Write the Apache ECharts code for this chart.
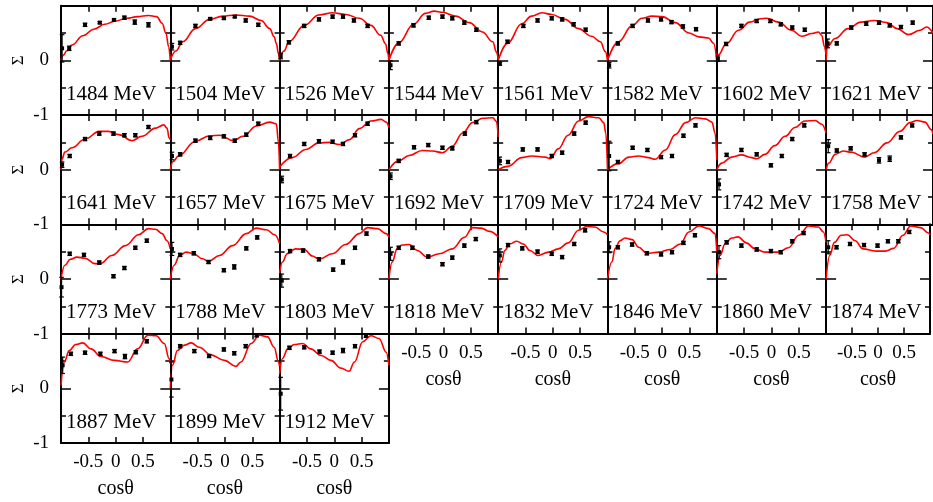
<!DOCTYPE html>
<html><head><meta charset="utf-8">
<script src="https://cdn.jsdelivr.net/npm/echarts@6/dist/echarts.min.js"></script>
<style>html,body{margin:0;padding:0;background:#fff}#c{width:933px;height:502px}</style>
</head><body><div id="c"></div>
<script>
// ---- data ----
const energies = [1484,1504,1526,1544,1561,1582,1602,1621,1641,1657,1675,1692,1709,1724,1742,1758,1773,1788,1803,1818,1832,1846,1860,1874,1887,1899,1912];
const xTicks = [-0.5, 0, 0.5];
const yTicks = [-1, 0];

// measured points [cosθ, Σ, error]
const pts1484 = [[-0.98,0.22,0.25],[-0.85,0.22,0.04],[-0.56,0.65,0.03],[-0.29,0.69,0.02],[-0.03,0.74,0.02],[0.16,0.78,0.03],[0.35,0.70,0.04],[0.6,0.65,0.04]];
const pts1504 = [[-0.97,0.25,0.06],[-0.82,0.32,0.03],[-0.54,0.63,0.03],[-0.27,0.76,0.02],[-0.02,0.77,0.02],[0.18,0.8,0.02],[0.38,0.73,0.03],[0.61,0.65,0.03]];
const pts1526 = [[-0.98,0.08,0.05],[-0.83,0.33,0.03],[-0.55,0.63,0.03],[-0.28,0.75,0.03],[-0.03,0.8,0.03],[0.16,0.8,0.03],[0.36,0.73,0.03],[0.61,0.63,0.03]];
const pts1544 = [[-0.97,-0.09,0.08],[-0.82,0.31,0.03],[-0.55,0.64,0.03],[-0.27,0.78,0.03],[-0.02,0.8,0.03],[0.16,0.77,0.03],[0.38,0.69,0.03],[0.6,0.56,0.03]];
const pts1561 = [[-0.97,-0.06,0.03],[-0.83,0.34,0.03],[-0.54,0.63,0.03],[-0.28,0.73,0.03],[-0.02,0.77,0.03],[0.17,0.75,0.03],[0.38,0.66,0.03],[0.6,0.56,0.03]];
const pts1582 = [[-0.97,-0.09,0.05],[-0.81,0.31,0.03],[-0.54,0.63,0.03],[-0.26,0.73,0.03],[-0.02,0.75,0.03],[0.17,0.7,0.03],[0.38,0.62,0.03],[0.62,0.57,0.03]];
const pts1602 = [[-0.98,0.03,0.05],[-0.83,0.3,0.03],[-0.55,0.63,0.03],[-0.27,0.72,0.03],[-0.02,0.72,0.03],[0.17,0.66,0.03],[0.38,0.6,0.03],[0.61,0.56,0.03]];
const pts1621 = [[-0.97,0.31,0.08],[-0.8,0.31,0.03],[-0.53,0.6,0.03],[-0.25,0.67,0.03],[-0.01,0.69,0.03],[0.19,0.64,0.03],[0.4,0.61,0.03],[0.62,0.69,0.03]];
const pts1641 = [[-0.98,0.09,0.05],[-0.84,0.25,0.03],[-0.56,0.56,0.03],[-0.3,0.66,0.03],[-0.04,0.66,0.03],[0.16,0.63,0.03],[0.36,0.63,0.03],[0.6,0.78,0.03]];
const pts1657 = [[-0.97,0.25,0.07],[-0.82,0.28,0.03],[-0.54,0.53,0.03],[-0.27,0.58,0.03],[-0.02,0.61,0.03],[0.18,0.53,0.03],[0.39,0.64,0.03],[0.61,0.84,0.03]];
const pts1675 = [[-0.96,-0.18,0.06],[-0.81,0.25,0.03],[-0.55,0.47,0.03],[-0.28,0.52,0.03],[-0.03,0.51,0.03],[0.16,0.47,0.03],[0.38,0.63,0.03],[0.61,0.84,0.03]];
const pts1692 = [[-0.97,-0.12,0.06],[-0.82,0.16,0.03],[-0.54,0.41,0.03],[-0.28,0.45,0.03],[-0.02,0.4,0.03],[0.16,0.39,0.03],[0.39,0.66,0.03],[0.6,0.87,0.03]];
const pts1709 = [[-0.97,0.16,0.07],[-0.82,0.14,0.03],[-0.55,0.37,0.03],[-0.28,0.37,0.03],[-0.02,0.25,0.03],[0.17,0.31,0.03],[0.39,0.66,0.03],[0.6,0.86,0.03]];
const pts1724 = [[-0.97,0.25,0.27],[-0.81,0.14,0.03],[-0.54,0.4,0.03],[-0.27,0.36,0.03],[-0.02,0.23,0.03],[0.18,0.25,0.03],[0.39,0.62,0.03],[0.61,0.81,0.03]];
const pts1742 = [[-0.96,-0.27,0.1],[-0.82,0.27,0.03],[-0.55,0.36,0.03],[-0.27,0.28,0.03],[-0.01,0.08,0.03],[0.19,0.25,0.03],[0.38,0.56,0.03],[0.6,0.81,0.03]];
const pts1758 = [[-0.96,0.43,0.12],[-0.8,0.35,0.03],[-0.54,0.39,0.03],[-0.28,0.28,0.03],[-0.01,0.17,0.05],[0.19,0.2,0.05],[0.4,0.59,0.03],[0.61,0.81,0.03]];
const pts1773 = [[-0.99,-0.15,0.18],[-0.84,0.46,0.03],[-0.58,0.44,0.03],[-0.3,0.3,0.03],[-0.04,0.05,0.03],[0.16,0.2,0.03],[0.36,0.57,0.03],[0.57,0.7,0.03]];
const pts1788 = [[-0.97,0.55,0.12],[-0.82,0.44,0.03],[-0.57,0.47,0.03],[-0.3,0.31,0.03],[-0.02,0.16,0.03],[0.17,0.22,0.04],[0.39,0.56,0.03],[0.59,0.76,0.03]];
const pts1803 = [[-0.96,-0.03,0.12],[-0.81,0.51,0.03],[-0.57,0.52,0.03],[-0.28,0.36,0.03],[-0.02,0.17,0.03],[0.16,0.31,0.04],[0.38,0.57,0.03],[0.59,0.83,0.03]];
const pts1818 = [[-0.97,0.46,0.12],[-0.82,0.57,0.03],[-0.57,0.57,0.03],[-0.28,0.41,0.03],[-0.02,0.27,0.03],[0.16,0.39,0.03],[0.38,0.61,0.03],[0.59,0.73,0.03]];
const pts1832 = [[-0.97,0.43,0.12],[-0.82,0.62,0.03],[-0.56,0.56,0.03],[-0.28,0.5,0.03],[-0.02,0.46,0.03],[0.17,0.4,0.03],[0.39,0.64,0.03],[0.59,0.89,0.03]];
const pts1846 = [[-0.97,0.58,0.1],[-0.81,0.58,0.03],[-0.55,0.63,0.03],[-0.28,0.47,0.03],[-0.02,0.45,0.03],[0.18,0.49,0.03],[0.39,0.66,0.03],[0.6,0.8,0.03]];
const pts1860 = [[-0.96,0.49,0.12],[-0.82,0.67,0.03],[-0.55,0.61,0.03],[-0.27,0.54,0.03],[-0.01,0.51,0.03],[0.17,0.49,0.03],[0.38,0.69,0.03],[0.59,0.84,0.03]];
const pts1874 = [[-0.96,0.58,0.12],[-0.8,0.58,0.03],[-0.54,0.64,0.03],[-0.27,0.62,0.03],[-0.01,0.61,0.03],[0.19,0.69,0.03],[0.39,0.69,0.03],[0.6,0.86,0.03]];
const pts1887 = [[-0.97,0.42,0.15],[-0.82,0.63,0.03],[-0.56,0.65,0.03],[-0.28,0.63,0.03],[-0.02,0.68,0.03],[0.17,0.58,0.04],[0.37,0.66,0.03],[0.57,0.86,0.03]];
const pts1899 = [[-0.98,0.16,0.32],[-0.82,0.77,0.03],[-0.56,0.68,0.03],[-0.29,0.59,0.03],[-0.02,0.71,0.03],[0.17,0.64,0.03],[0.38,0.77,0.03],[0.58,0.97,0.03]];
const pts1912 = [[-0.98,-0.1,0.3],[-0.82,0.74,0.03],[-0.55,0.75,0.03],[-0.27,0.67,0.03],[-0.03,0.65,0.03],[0.16,0.69,0.04],[0.38,0.77,0.03],[0.58,0.96,0.03]];

// model curves [cosθ, Σ]
const fit1484 = [[-1,0],[-0.95,0.1],[-0.9,0.17],[-0.8,0.28],[-0.6,0.45],[-0.4,0.57],[-0.2,0.66],[0,0.72],[0.2,0.77],[0.4,0.8],[0.6,0.82],[0.75,0.8],[0.85,0.68],[0.92,0.5],[0.97,0.25],[1,0]];
const fit1504 = [[-1,0],[-0.9,0.17],[-0.77,0.34],[-0.54,0.58],[-0.28,0.75],[-0.04,0.81],[0.2,0.83],[0.45,0.81],[0.66,0.73],[0.82,0.58],[0.9,0.43],[0.94,0.31],[0.98,0.12],[1,0]];
const fit1526 = [[-1,0],[-0.92,0.17],[-0.83,0.34],[-0.55,0.64],[-0.28,0.83],[-0.03,0.87],[0.21,0.84],[0.46,0.77],[0.67,0.64],[0.85,0.46],[0.94,0.3],[0.98,0.13],[1,0]];
const fit1544 = [[-1,0],[-0.82,0.32],[-0.55,0.66],[-0.33,0.86],[-0.17,0.9],[-0.02,0.88],[0.22,0.81],[0.47,0.69],[0.71,0.52],[0.9,0.34],[0.97,0.15],[1,0.02]];
const fit1561 = [[-1,0],[-0.83,0.31],[-0.57,0.67],[-0.39,0.81],[-0.2,0.87],[-0.02,0.84],[0.22,0.75],[0.47,0.58],[0.71,0.44],[0.87,0.34],[0.96,0.16],[1,0]];
const fit1582 = [[-1,0],[-0.8,0.34],[-0.55,0.63],[-0.37,0.77],[-0.19,0.81],[0,0.8],[0.24,0.69],[0.49,0.5],[0.67,0.43],[0.85,0.41],[0.94,0.31],[1,0]];
const fit1602 = [[-1,0],[-0.97,0.1],[-0.83,0.3],[-0.6,0.55],[-0.4,0.7],[-0.2,0.76],[-0.09,0.77],[0.13,0.7],[0.37,0.55],[0.55,0.44],[0.74,0.49],[0.86,0.52],[0.92,0.46],[0.97,0.25],[1,0.1]];
const fit1621 = [[-1,0],[-0.98,0.25],[-0.83,0.4],[-0.59,0.58],[-0.35,0.7],[-0.1,0.73],[0.14,0.69],[0.33,0.58],[0.54,0.47],[0.76,0.55],[0.88,0.61],[1,0.5]];
const fit1641 = [[-1,0],[-0.98,0.2],[-0.93,0.32],[-0.8,0.4],[-0.56,0.56],[-0.3,0.7],[-0.13,0.7],[0.06,0.64],[0.3,0.53],[0.48,0.61],[0.73,0.76],[0.88,0.82],[0.94,0.76],[0.98,0.58],[1,0.55]];
const fit1657 = [[-1,0],[-0.95,0.15],[-0.85,0.25],[-0.54,0.52],[-0.28,0.62],[-0.1,0.63],[0.15,0.53],[0.33,0.61],[0.58,0.8],[0.82,0.87],[0.94,0.84],[0.98,0.5],[1,0]];
const fit1675 = [[-1,0.05],[-0.77,0.22],[-0.52,0.37],[-0.28,0.49],[-0.09,0.5],[0.09,0.46],[0.28,0.55],[0.46,0.75],[0.67,0.89],[0.86,0.92],[0.95,0.87],[1,0.77]];
const fit1692 = [[-1,0],[-0.82,0.16],[-0.63,0.26],[-0.39,0.35],[-0.2,0.34],[-0.02,0.31],[0.16,0.43],[0.35,0.67],[0.53,0.86],[0.72,0.94],[0.9,0.95],[0.97,0.88],[1,0.6]];
const fit1709 = [[-1,0],[-0.82,0.06],[-0.57,0.22],[-0.39,0.25],[-0.14,0.23],[-0.05,0.2],[0.1,0.38],[0.28,0.63],[0.47,0.89],[0.65,0.97],[0.84,0.95],[0.93,0.86],[0.97,0.67],[1,0]];
const fit1724 = [[-1,0],[-0.8,0.11],[-0.61,0.23],[-0.43,0.25],[-0.25,0.22],[-0.13,0.19],[0.06,0.36],[0.24,0.64],[0.43,0.86],[0.61,0.95],[0.79,0.93],[0.91,0.87],[0.97,0.67],[1,0.18]];
const fit1742 = [[-1,0],[-0.91,0.12],[-0.73,0.23],[-0.55,0.27],[-0.36,0.22],[-0.27,0.2],[-0.12,0.28],[0.06,0.44],[0.25,0.61],[0.43,0.77],[0.61,0.89],[0.8,0.9],[0.92,0.83],[1,0.67]];
const fit1758 = [[-1,0],[-0.95,0.12],[-0.83,0.28],[-0.68,0.34],[-0.53,0.32],[-0.28,0.23],[-0.1,0.31],[0.14,0.49],[0.38,0.7],[0.57,0.86],[0.7,0.9],[0.85,0.87],[0.97,0.73],[1,0.65]];
const fit1773 = [[-1,0],[-0.93,0.25],[-0.83,0.36],[-0.71,0.4],[-0.56,0.38],[-0.38,0.28],[-0.28,0.28],[-0.07,0.43],[0.18,0.61],[0.42,0.81],[0.6,0.92],[0.73,0.91],[0.85,0.83],[0.94,0.7],[1,0.55]];
const fit1788 = [[-1,0],[-0.93,0.25],[-0.83,0.43],[-0.71,0.49],[-0.59,0.47],[-0.41,0.37],[-0.3,0.32],[-0.1,0.43],[0.14,0.61],[0.39,0.83],[0.57,0.93],[0.76,0.9],[0.91,0.81],[1,0.65]];
const fit1803 = [[-1,0.1],[-0.95,0.31],[-0.86,0.46],[-0.71,0.55],[-0.55,0.54],[-0.4,0.42],[-0.28,0.36],[-0.04,0.46],[0.21,0.63],[0.46,0.83],[0.61,0.94],[0.79,0.92],[0.95,0.83],[1,0.77]];
const fit1818 = [[-1,0],[-0.94,0.31],[-0.85,0.55],[-0.76,0.62],[-0.63,0.63],[-0.48,0.52],[-0.3,0.4],[-0.08,0.46],[0.16,0.55],[0.38,0.76],[0.53,0.94],[0.69,0.93],[0.84,0.87],[1,0.77]];
const fit1832 = [[-1,0],[-0.94,0.31],[-0.88,0.52],[-0.79,0.64],[-0.66,0.69],[-0.54,0.64],[-0.42,0.52],[-0.27,0.43],[-0.08,0.49],[0.1,0.55],[0.28,0.66],[0.47,0.89],[0.62,0.96],[0.77,0.95],[0.93,0.86],[1,0.81]];
const fit1846 = [[-1,0],[-0.92,0.31],[-0.86,0.56],[-0.77,0.7],[-0.68,0.75],[-0.55,0.72],[-0.43,0.58],[-0.28,0.47],[-0.06,0.49],[0.15,0.54],[0.33,0.64],[0.49,0.86],[0.67,0.97],[0.85,0.92],[0.97,0.83],[1,0.5]];
const fit1860 = [[-1,0.1],[-0.94,0.43],[-0.85,0.64],[-0.73,0.75],[-0.61,0.77],[-0.46,0.66],[-0.3,0.55],[-0.12,0.49],[0.13,0.49],[0.31,0.57],[0.5,0.8],[0.68,0.97],[0.86,0.95],[0.95,0.86],[1,0.67]];
const fit1874 = [[-1,0],[-0.93,0.43],[-0.84,0.67],[-0.71,0.8],[-0.59,0.81],[-0.44,0.7],[-0.29,0.55],[-0.04,0.51],[0.14,0.51],[0.3,0.56],[0.48,0.8],[0.63,0.97],[0.82,0.94],[0.97,0.84],[1,0.8]];
const fit1887 = [[-1,0.05],[-0.94,0.48],[-0.85,0.69],[-0.73,0.8],[-0.6,0.83],[-0.45,0.72],[-0.27,0.58],[-0.02,0.51],[0.22,0.48],[0.4,0.72],[0.59,0.97],[0.74,0.96],[0.89,0.82],[0.98,0.54],[1,0.45]];
const fit1899 = [[-1,0],[-0.96,0.42],[-0.87,0.69],[-0.74,0.79],[-0.62,0.83],[-0.47,0.75],[-0.26,0.61],[-0.01,0.51],[0.2,0.4],[0.29,0.48],[0.48,0.82],[0.63,0.97],[0.78,0.94],[0.9,0.75],[0.98,0.48],[1,0.4]];
const fit1912 = [[-1,0.26],[-0.95,0.54],[-0.85,0.72],[-0.73,0.8],[-0.58,0.82],[-0.43,0.72],[-0.24,0.6],[-0.06,0.51],[0.12,0.37],[0.27,0.31],[0.37,0.48],[0.52,0.85],[0.67,0.96],[0.82,0.91],[0.95,0.66],[1,0.42]];

const pointSets = [pts1484,pts1504,pts1526,pts1544,pts1561,pts1582,pts1602,pts1621,pts1641,pts1657,pts1675,pts1692,pts1709,pts1724,pts1742,pts1758,pts1773,pts1788,pts1803,pts1818,pts1832,pts1846,pts1860,pts1874,pts1887,pts1899,pts1912];
const fitSets = [fit1484,fit1504,fit1526,fit1544,fit1561,fit1582,fit1602,fit1621,fit1641,fit1657,fit1675,fit1692,fit1709,fit1724,fit1742,fit1758,fit1773,fit1788,fit1803,fit1818,fit1832,fit1846,fit1860,fit1874,fit1887,fit1899,fit1912];

// ---- layout ----
const NCOL = 8, L0 = 61, T0 = 5.7, PW = 109.3, PH = 109.3;
const FONT = 'Liberation Serif';
const grids = [], xAxes = [], yAxes = [], series = [], titles = [];
const axisLine = {show:true, onZero:false, lineStyle:{color:'#000', width:2}};
const tickStyle = {color:'#000', width:1.5};

function renderErr(params, api) {
  const x = api.value(0), y = api.value(1), e = api.value(2);
  const t = api.coord([x, y + e]), b = api.coord([x, y - e]), c = api.coord([x, y]);
  const w = 2.3, st = {stroke:'#000', lineWidth:1.2};
  return {type:'group', children:[
    {type:'line', shape:{x1:t[0], y1:t[1], x2:b[0], y2:b[1]}, style:st},
    {type:'line', shape:{x1:t[0]-w, y1:t[1], x2:t[0]+w, y2:t[1]}, style:st},
    {type:'line', shape:{x1:b[0]-w, y1:b[1], x2:b[0]+w, y2:b[1]}, style:st},
    {type:'rect', shape:{x:c[0]-2, y:c[1]-2, width:4, height:4}, style:{fill:'#000'}}
  ]};
}

energies.forEach((en, i) => {
  const col = i % NCOL, row = Math.floor(i / NCOL);
  const left = L0 + col * PW, top = T0 + row * PH;
  grids.push({left: left, top: top, width: PW, height: PH, containLabel:false});
  const showX = i >= 19;
  const showY = col === 0;
  xAxes.push({gridIndex:i, type:'value', min:-1, max:1, interval:0.5, position:'bottom',
    axisLine, axisTick:{show:true, inside:true, length:6, lineStyle:tickStyle},
    splitLine:{show:false},
    axisLabel:{show:showX, margin:10, color:'#000', fontFamily:FONT, fontSize:19,
      formatter: v => xTicks.indexOf(v) >= 0 ? String(v) : ''},
    name: showX ? 'cosθ' : '', nameLocation:'middle', nameGap:36,
    nameTextStyle:{color:'#000', fontFamily:FONT, fontSize:20}});
  xAxes.push({gridIndex:i, type:'value', min:-1, max:1, interval:0.5, position:'top',
    axisLine, axisTick:{show:true, inside:true, length:6, lineStyle:tickStyle},
    splitLine:{show:false}, axisLabel:{show:false}});
  yAxes.push({gridIndex:i, type:'value', min:-1, max:1, interval:1, position:'left',
    axisLine, axisTick:{show:true, inside:true, length:10, lineStyle:tickStyle},
    minorTick:{show:true, splitNumber:2, length:5, lineStyle:tickStyle},
    splitLine:{show:false}, minorSplitLine:{show:false},
    axisLabel:{show:showY, margin:12, color:'#000', fontFamily:FONT, fontSize:19,
      formatter: v => yTicks.indexOf(v) >= 0 ? String(v) : ''},
    name: showY ? 'Σ' : '', nameLocation:'middle', nameGap:34,
    nameTextStyle:{color:'#000', fontFamily:FONT, fontSize:17}});
  yAxes.push({gridIndex:i, type:'value', min:-1, max:1, interval:1, position:'right',
    axisLine, axisTick:{show:true, inside:true, length:10, lineStyle:tickStyle},
    minorTick:{show:true, splitNumber:2, length:5, lineStyle:tickStyle},
    splitLine:{show:false}, minorSplitLine:{show:false}, axisLabel:{show:false}});
  series.push({type:'line', xAxisIndex:2*i, yAxisIndex:2*i, data: fitSets[i], smooth:0.4, smoothMonotone:'x',
    showSymbol:false, lineStyle:{color:'#ff0000', width:1.6}, silent:true, animation:false, z:2});
  series.push({type:'custom', xAxisIndex:2*i, yAxisIndex:2*i, data: pointSets[i], renderItem: renderErr,
    silent:true, animation:false, z:3, clip:false});
  titles.push({text: en + ' MeV', left: left + 5, top: top + 78, padding:0,
    textStyle:{color:'#000', fontFamily:FONT, fontSize:21, fontWeight:'normal'}});
});

const chart = echarts.init(document.getElementById('c'), null, {renderer:'canvas'});
chart.setOption({animation:false, backgroundColor:'#fff', title: titles, grid: grids, xAxis: xAxes, yAxis: yAxes, series});
</script></body></html>
